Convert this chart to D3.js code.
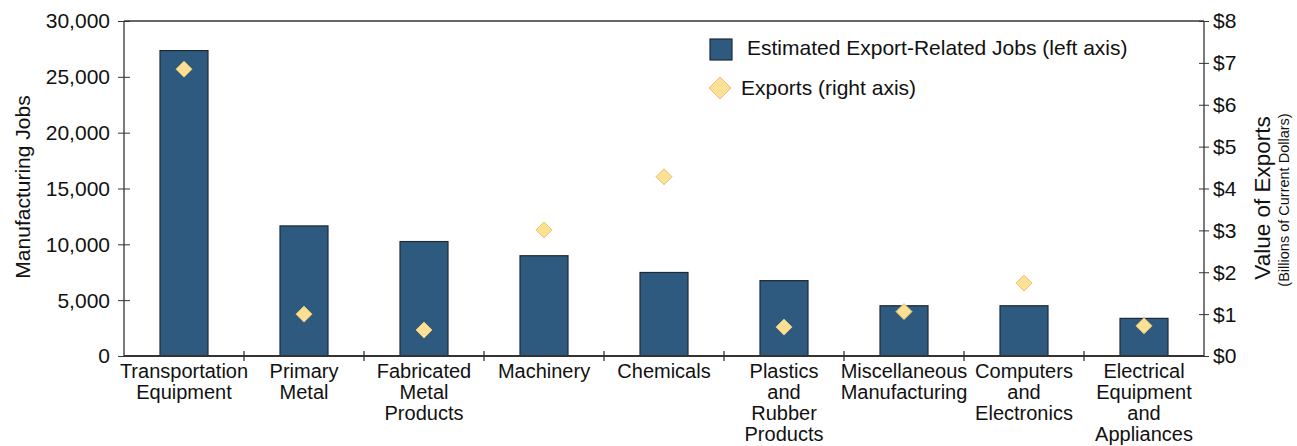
<!DOCTYPE html>
<html><head><meta charset="utf-8">
<script src="https://cdn.jsdelivr.net/npm/d3@7"></script>
<style>body{margin:0;background:#fff;}text{font-family:"Liberation Sans",Arial,sans-serif;fill:#111;}</style>
</head><body>
<svg id="c" width="1297" height="446"></svg>
<script>
const categories = [
  ["Transportation","Equipment"],
  ["Primary","Metal"],
  ["Fabricated","Metal","Products"],
  ["Machinery"],
  ["Chemicals"],
  ["Plastics","and","Rubber","Products"],
  ["Miscellaneous","Manufacturing"],
  ["Computers","and","Electronics"],
  ["Electrical","Equipment","and","Appliances"]
];
const jobs = [27350, 11650, 10250, 8980, 7480, 6750, 4500, 4500, 3370];
const exportsVal = [6.85, 1.0, 0.62, 3.01, 4.28, 0.69, 1.06, 1.74, 0.72];
const leftTicks = [0, 5000, 10000, 15000, 20000, 25000, 30000];
const rightTicks = [0, 1, 2, 3, 4, 5, 6, 7, 8];

const svg = d3.select("#c");
const L = 124, R = 1204, T = 21, B = 356;
const x = d3.scaleBand().domain(d3.range(categories.length)).range([L, R]).paddingInner(0.6).paddingOuter(0.3);
const xb = d3.scaleBand().domain(d3.range(categories.length)).range([L, R]);
const yL = d3.scaleLinear().domain([0, 30000]).range([B, T]);
const yR = d3.scaleLinear().domain([0, 8]).range([B, T]);

const barFill = "#2d5a7e", barStroke = "#1f2a35";
const dFill = "#fde093", dStroke = "#e3c476";

// bars
svg.append("g").selectAll("rect").data(jobs).join("rect")
  .attr("x", (d,i)=>x(i)).attr("width", x.bandwidth())
  .attr("y", d=>yL(d)).attr("height", d=>B-yL(d))
  .attr("fill", barFill).attr("stroke", barStroke).attr("stroke-width", 1.2);

// frame
const ax = svg.append("g").attr("stroke", "#333").attr("stroke-width", 1.3);
ax.append("line").attr("x1", L).attr("x2", R).attr("y1", T).attr("y2", T);
ax.append("line").attr("x1", L).attr("x2", R).attr("y1", B).attr("y2", B).attr("stroke-width", 2);
ax.append("line").attr("x1", L).attr("x2", L).attr("y1", T).attr("y2", B);
ax.append("line").attr("x1", R).attr("x2", R).attr("y1", T).attr("y2", B);

// left axis
const gl = svg.append("g").attr("transform", `translate(${L},0)`)
  .call(d3.axisLeft(yL).tickValues(leftTicks).tickFormat(d3.format(",")).tickSize(6).tickSizeOuter(0));
gl.select(".domain").remove();
gl.selectAll(".tick line").attr("x1", 6).attr("x2", -6).attr("stroke", "#333");
gl.selectAll(".tick text").attr("x", -14).attr("dy", "0.33em").style("font-size", "21px").attr("fill", "#111");

// right axis
const gr = svg.append("g").attr("transform", `translate(${R},0)`)
  .call(d3.axisRight(yR).tickValues(rightTicks).tickFormat(d=>"$"+d).tickSize(6).tickSizeOuter(0));
gr.select(".domain").remove();
gr.selectAll(".tick line").attr("x1", -5).attr("x2", 5).attr("stroke", "#333");
gr.selectAll(".tick text").attr("x", 9).attr("dy", "0.33em").style("font-size", "21px").attr("fill", "#111");

// x ticks at band boundaries
svg.append("g").selectAll("line").data(d3.range(1, categories.length)).join("line")
  .attr("x1", i=>xb(i)).attr("x2", i=>xb(i)).attr("y1", B-5).attr("y2", B+5)
  .attr("stroke", "#333").attr("stroke-width", 1.3);

// category labels
svg.append("g").selectAll("text").data(categories).join("text")
  .attr("text-anchor", "middle").style("font-size", "20px")
  .attr("transform", (d,i)=>`translate(${xb(i)+xb.bandwidth()/2},378)`)
  .each(function(d){
    d3.select(this).selectAll("tspan").data(d).join("tspan")
      .attr("x", 0).attr("y", (t,j)=>j*21).text(t=>t);
  });

// diamonds
const ds = 8;
svg.append("g").selectAll("path").data(exportsVal).join("path")
  .attr("d", `M0,${-ds}L${ds},0L0,${ds}L${-ds},0Z`)
  .attr("transform", (d,i)=>`translate(${xb(i)+xb.bandwidth()/2},${yR(d)})`)
  .attr("fill", dFill).attr("stroke", dStroke).attr("stroke-width", 1);

// axis titles
svg.append("text").attr("transform", "translate(30,187) rotate(-90)")
  .attr("text-anchor", "middle").style("font-size", "21px").text("Manufacturing Jobs");
svg.append("text").attr("transform", "translate(1270,198) rotate(-90)")
  .attr("text-anchor", "middle").style("font-size", "22.5px").text("Value of Exports");
svg.append("text").attr("transform", "translate(1289,200) rotate(-90)")
  .attr("text-anchor", "middle").style("font-size", "14.5px").text("(Billions of Current Dollars)");

// legend
const lg = svg.append("g");
lg.append("rect").attr("x", 710).attr("y", 39).attr("width", 22).attr("height", 21)
  .attr("fill", barFill).attr("stroke", barStroke).attr("stroke-width", 1.2);
lg.append("text").attr("x", 747).attr("y", 55).style("font-size", "21px").text("Estimated Export-Related Jobs (left axis)");
lg.append("path").attr("d", `M0,-11L11,0L0,11L-11,0Z`).attr("transform", "translate(720,88)")
  .attr("fill", dFill).attr("stroke", dStroke);
lg.append("text").attr("x", 741).attr("y", 95).style("font-size", "21px").text("Exports (right axis)");
</script>
</body></html>
